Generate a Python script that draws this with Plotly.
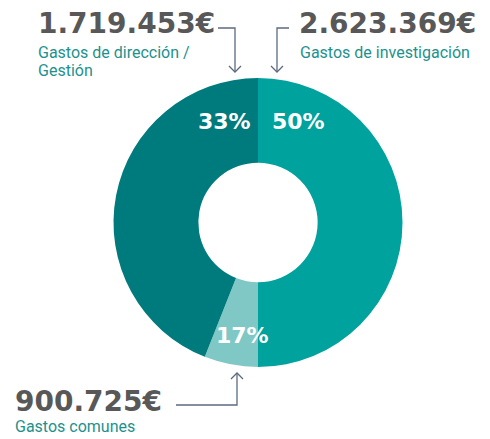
import plotly.graph_objects as go

W, H = 490, 439

# ── Data ──────────────────────────────────────────────────────
categories = ["Gastos de investigación", "Gastos comunes", "Gastos de dirección / Gestión"]
amounts = ["2.623.369€", "900.725€", "1.719.453€"]
pct_labels = ["50%", "17%", "33%"]
# slice sizes as they are drawn in the original graphic
slice_sizes = [50, 6, 44]
slice_colors = ["#00a29e", "#7fc8c5", "#007b7d"]

# ── Styles ────────────────────────────────────────────────────
AMOUNT_FONT = dict(family="DejaVu Sans", size=28, color="#585858")
LABEL_FONT = dict(family="Roboto", size=16, color="#1d918d")
PCT_FONT = dict(family="DejaVu Sans", size=22, color="#ffffff")
LINE_COLOR = "#5c6a80"

cx, cy, r = 258, 222.5, 144.5

fig = go.Figure(go.Pie(
    labels=categories,
    values=slice_sizes,
    sort=False,
    direction="clockwise",
    rotation=0,
    hole=0.413,
    marker=dict(colors=slice_colors, line=dict(width=0)),
    textinfo="none",
    hoverinfo="label",
    showlegend=False,
    domain=dict(x=[(cx - r) / W, (cx + r) / W], y=[1 - (cy + r) / H, 1 - (cy - r) / H]),
))


def note(x, y, text, font, xanchor="left"):
    fig.add_annotation(x=x, y=y, xref="x", yref="y", text=text, font=font,
                       showarrow=False, xanchor=xanchor, yanchor="middle")


# percentage labels inside the ring
for (x, y), t in zip([(298.5, 121), (242, 335), (224, 121)], pct_labels):
    note(x, y, f"<b>{t}</b>", PCT_FONT, xanchor="center")

# amounts + descriptions
note(297, 23, f"<b>{amounts[0]}</b>", AMOUNT_FONT)
note(298, 52.5, categories[0], LABEL_FONT)

note(36, 23, f"<b>{amounts[2]}</b>", AMOUNT_FONT)
line1, line2 = categories[2].split(" / ")
note(36, 52.5, line1 + " /", LABEL_FONT)
note(36, 70.5, line2, LABEL_FONT)

note(13, 401.5, f"<b>{amounts[1]}</b>", AMOUNT_FONT)
note(13, 426, categories[1], LABEL_FONT)

# connector arrows (pixel coordinates)
paths = [
    "M 218 28 H 235 V 72", "M 229 66 L 235 72 L 241 66",
    "M 289 28 H 277 V 72", "M 271 66 L 277 72 L 283 66",
    "M 176 405 H 237 V 373", "M 231 379 L 237 373 L 243 379",
]
for p in paths:
    fig.add_shape(type="path", path=p, xref="x", yref="y",
                  line=dict(color=LINE_COLOR, width=1.3))

fig.update_layout(
    width=W, height=H,
    margin=dict(l=0, r=0, t=0, b=0),
    paper_bgcolor="#ffffff",
    plot_bgcolor="rgba(0,0,0,0)",
    xaxis=dict(range=[0, W], visible=False, fixedrange=True),
    yaxis=dict(range=[H, 0], visible=False, fixedrange=True),
)

# drop the default page margin so the figure sits at the window's corner
fig.write_html("out.html", config=dict(displayModeBar=False),
               post_script="document.body.style.margin = '0';")
